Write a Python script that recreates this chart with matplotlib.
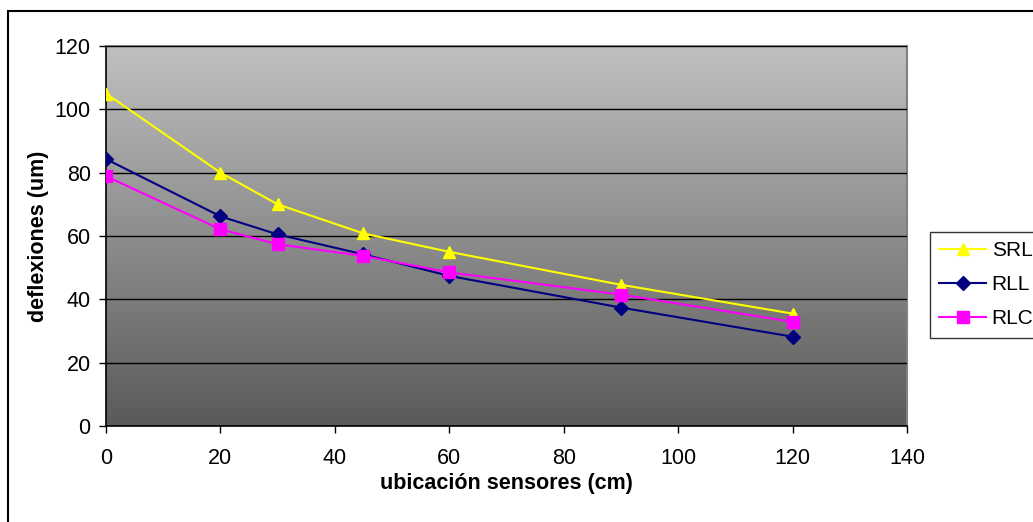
import numpy as np
import matplotlib
matplotlib.use("Agg")
import matplotlib.pyplot as plt
from matplotlib.colors import LinearSegmentedColormap
from matplotlib.patches import Rectangle

plt.rcParams['font.family'] = ['Liberation Sans', 'DejaVu Sans']

# Sensor positions (cm) and measured deflections (um)
positions = [0, 20, 30, 45, 60, 90, 120]
srl = [105.0, 80.0, 70.0, 60.8, 55.0, 44.6, 35.5]
rll = [84.3, 66.2, 60.5, 54.2, 47.4, 37.4, 28.2]
rlc = [78.9, 62.1, 57.4, 53.7, 48.5, 41.5, 32.9]

series_names = ['SRL', 'RLL', 'RLC']
x_ticks = [0, 20, 40, 60, 80, 100, 120, 140]
y_ticks = [0, 20, 40, 60, 80, 100, 120]

fig = plt.figure(figsize=(10.33, 5.22), dpi=100)
ax = fig.add_axes([106 / 1033, 1 - 426 / 522, (907 - 106) / 1033, (426 - 46) / 522])

# outer chart border
fig.patches.append(Rectangle((8 / 1033, -0.05), 1.1, 1 - 11 / 522 + 0.05,
                             transform=fig.transFigure, fill=False,
                             edgecolor='black', linewidth=1.5, zorder=0))

# gray vertical gradient for the plot area
grad = LinearSegmentedColormap.from_list('bg', ['#5a5a5a', '#c0c0c0'])
ax.imshow(np.linspace(0, 1, 256).reshape(-1, 1), cmap=grad, origin='lower',
          aspect='auto', extent=[0, 1, 0, 1], transform=ax.transAxes, zorder=0)

ax.set_xlim(0, 140)
ax.set_ylim(0, 120)
ax.set_xticks(x_ticks)
ax.set_yticks(y_ticks)
ax.yaxis.grid(True, color='black', linewidth=1.0, zorder=1)
ax.set_axisbelow(False)

ax.plot(positions, srl, color='#ffff00', marker='^', markersize=9, linewidth=1.5,
        label=series_names[0], zorder=3)
ax.plot(positions, rll, color='#000080', marker='D', markersize=7, linewidth=1.5,
        label=series_names[1], zorder=3)
ax.plot(positions, rlc, color='#ff00ff', marker='s', markersize=8, linewidth=1.5,
        label=series_names[2], zorder=4)

for side in ['top', 'right']:
    ax.spines[side].set_color('#808080')
    ax.spines[side].set_linewidth(1.5)
for side in ['left', 'bottom']:
    ax.spines[side].set_color('black')
    ax.spines[side].set_linewidth(1.2)

ax.tick_params(axis='both', direction='out', length=5, width=1, colors='black',
               labelsize=15.5)
ax.tick_params(axis='y', pad=6)
ax.tick_params(axis='x', pad=11)

ax.set_xlabel('ubicación sensores (cm)', fontsize=15.5, fontweight='bold', labelpad=3)
ax.set_ylabel('deflexiones (um)', fontsize=15.5, fontweight='bold', labelpad=4)

leg = fig.legend(loc='upper left', bbox_to_anchor=(930 / 1033, 1 - 232 / 522),
                 fontsize=15, frameon=True, fancybox=False, edgecolor='black',
                 handlelength=2.26, handletextpad=0.25, borderpad=0.45,
                 labelspacing=0.72, borderaxespad=0)
leg.get_frame().set_linewidth(1.0)

fig.savefig('out.png', dpi=100)
